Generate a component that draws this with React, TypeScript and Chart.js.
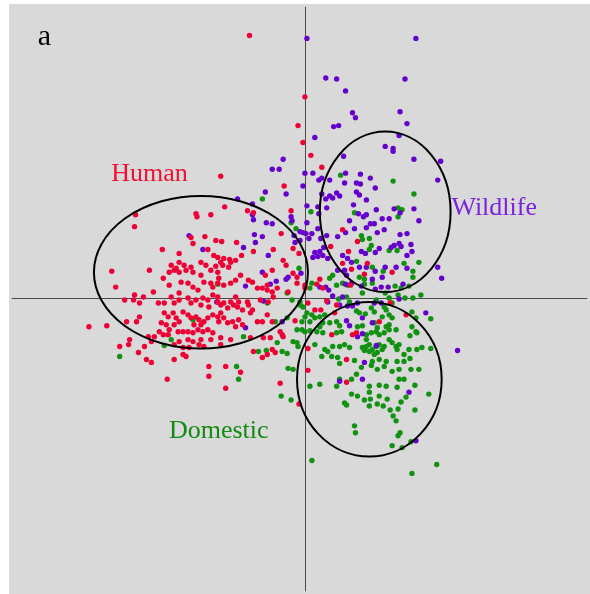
import React, { useEffect, useRef } from "react";
import { Chart, registerables } from "chart.js";

Chart.register(...registerables);

// Ordination scores (PC1, PC2) for each source group
const humanScores: number[][] = [
  [-56, 265], [0, 203], [-7, 174], [-2, 157], [6, 144], [17, 132], [-85, 123],
  [-171, 84], [-172, 72], [-110, 85], [-109, 82], [-95, 84], [-115, 61], [-101, 62], [-113, 55],
  [-90, 58], [-144, 49], [-98, 49], [-127, 45], [-92, 43], [-88, 41], [-195, 27], [-191, 11],
  [-200, -28], [-218, -29], [-187, -49], [-139, -82], [-97, -79],
  [-21, 113], [-81, 92], [-58, 88], [-52, 86], [-14, 88], [-24, 65], [-69, 56], [-84, 57],
  [-52, 47], [-32, 49], [-12, 50], [26, 52], [-6, 45], [-76, 39], [-82, 40], [-64, 43],
  [-19, 33], [-22, 38], [-12, 25], [-8, 21], [15, 19], [-17, 6],
  [38, 69], [53, 57], [44, 47], [38, 35], [63, 35], [88, 26], [47, 29], [60, 24],
  [-23, -37], [-25, -34], [-22, -39], [-65, -75], [-25, -86], [-80, -91], [-6, -107],
  [-8, 15], [0, 13], [0, 10], [12, 14], [18, 10], [46, 13], [32, -7], [22, -3], [86, -5],
  [3, -5], [10, -12], [16, -12], [30, -15], [75, -24], [102, -17], [-10, -23], [27, -37],
  [48, -37], [52, -35], [3, -51], [42, -62], [3, -73], [42, -85],
  [-135, 33], [-130, 30], [-127, 36], [-122, 33], [-115, 31], [-105, 36], [-100, 33], [-90, 32],
  [-83, 33], [-77, 31], [-85, 36], [-75, 36], [-70, 38], [-157, 28], [-137, 26], [-132, 28],
  [-127, 26], [-120, 28], [-113, 26], [-105, 23], [-95, 28], [-88, 26],
  [-143, 20], [-137, 13], [-125, 16], [-118, 15], [-113, 11], [-108, 8], [-102, 16], [-95, 15],
  [-93, 11], [-87, 20], [-88, 15], [-82, 13], [-75, 15], [-70, 18], [-65, 23], [-57, 18],
  [-53, 16], [-48, 10], [-43, 10], [-38, 13], [-33, 28], [-40, 23], [-38, 8], [-28, 10], [-33, 6],
  [-172, 3], [-163, 1], [-153, 6], [-148, -5], [-142, -5], [-135, 1], [-132, -5], [-127, 5],
  [-127, -2], [-118, 0], [-115, -5], [-110, -2], [-103, 0], [-105, -7], [-98, -2], [-97, -9],
  [-93, 3], [-88, 1], [-88, -4], [-85, -7], [-82, -5], [-78, -10], [-75, -4], [-70, 1],
  [-72, -7], [-67, -4], [-68, -9], [-63, -12], [-57, -7], [-53, -12], [-58, -4], [-45, -2],
  [-37, -4], [-32, 1], [-180, -24], [-173, -2], [-167, -5], [-182, -2],
  [-142, -15], [-138, -19], [-133, -15], [-130, -20], [-127, -24], [-132, -27], [-123, -14],
  [-118, -17], [-115, -20], [-110, -19], [-107, -22], [-112, -27], [-105, -27], [-102, -24],
  [-98, -20], [-93, -17], [-88, -19], [-85, -15], [-82, -20], [-87, -24], [-78, -25], [-73, -24],
  [-67, -22], [-70, -29], [-63, -27], [-55, -15], [-48, -24], [-43, -24], [-38, -17], [-33, -24],
  [-140, -27], [-137, -32], [-145, -25], [-167, -19], [-170, -24], [-158, -39], [-152, -39],
  [-147, -34], [-143, -37], [-138, -37],
  [-128, -34], [-123, -34], [-118, -34], [-113, -35], [-108, -32], [-103, -34], [-98, -32],
  [-93, -35], [-85, -40], [-118, -42], [-113, -44], [-105, -42], [-127, -44], [-132, -47],
  [-123, -50], [-117, -50], [-107, -47], [-102, -49], [-95, -42], [-85, -47], [-75, -42],
  [-55, -40], [-42, -40], [-35, -40], [-33, -52], [-52, -54], [-43, -60], [-38, -57], [-30, -55],
  [-168, -55], [-160, -62], [-155, -65], [-132, -62], [-120, -59], [-123, -57], [-97, -69],
  [-80, -69], [-177, -42], [-178, -47], [-155, -44], [-162, -49],
];

const wildlifeScores: number[][] = [
  [2, 262], [21, 222], [32, 221], [29, 173], [34, 174], [10, 162], [-22, 140], [-33, 130],
  [-26, 130], [0, 126], [8, 126], [17, 121], [14, 119], [25, 119],
  [112, 262], [101, 221], [41, 209], [48, 187], [51, 182], [96, 188], [103, 176], [95, 164],
  [81, 153], [89, 151], [89, 148], [110, 140], [137, 138], [39, 143], [41, 126], [56, 125],
  [66, 121], [134, 119],
  [-2, 113], [-40, 107], [-19, 105], [-68, 100], [17, 105], [21, 100], [25, 103], [28, 101],
  [32, 106], [-53, 95], [-53, 84], [-52, 79], [2, 93], [13, 92], [14, 85], [22, 91], [-14, 82],
  [-13, 78], [-39, 76], [-33, 75], [2, 76], [-5, 67], [-2, 66], [1, 65], [-11, 63], [-10, 56],
  [-5, 58], [13, 70], [7, 65], [4, 60], [16, 60], [22, 63], [33, 62], [-43, 62], [-51, 64],
  [-50, 56], [-62, 51], [-37, 43], [10, 46], [15, 47], [19, 51], [8, 41], [13, 42], [18, 43],
  [23, 40], [-4, 25], [33, 28], [-17, 21], [-19, 19], [-23, -24],
  [-43, 26], [-35, 14], [-29, 17], [-42, -3], [-60, 12], [-89, -4], [-60, -30],
  [-117, 63], [-103, 49],
  [40, 116], [52, 116], [56, 115], [71, 111], [35, 103], [52, 107], [55, 104], [62, 99],
  [49, 94], [115, 78], [110, 90], [90, 90], [96, 86], [72, 89], [54, 85], [59, 82], [62, 84],
  [45, 78], [78, 80], [85, 80], [66, 75], [70, 75], [62, 71], [73, 66], [80, 69], [50, 70],
  [41, 66], [96, 64], [103, 65], [90, 53], [95, 55], [97, 52], [107, 54], [108, 47], [87, 51],
  [75, 50], [71, 46], [57, 47], [61, 45], [103, 43], [38, 43], [43, 40], [47, 36], [55, 31],
  [62, 31], [71, 27], [81, 31], [92, 31], [103, 30], [134, 31], [138, 20], [40, 28], [68, 19],
  [78, 21], [42, 23],
  [154, -53], [112, -144],
  [15, 11], [21, 11], [24, 8], [41, 14], [47, 15], [57, 12], [71, 9], [77, 11], [84, 11],
  [99, 14], [95, -1], [38, 1], [35, -7], [43, -8], [48, -8], [28, 2], [23, -4], [53, -5],
  [70, -5], [77, -5], [58, -20], [68, -25], [122, -15], [42, -23], [45, -28], [53, -39],
  [58, -36], [60, -65], [35, -84], [58, -82], [105, -95], [72, -48],
];

const domesticScores: number[][] = [
  [36, 124], [89, 118],
  [-43, 100], [6, 87], [-14, 76], [-9, 70], [-6, 30], [28, 23], [25, 20], [-18, 5], [-18, -20],
  [-30, -24], [-113, -22], [-187, -59],
  [-88, 14], [-38, -5], [-62, -39], [-47, -54], [-39, -53], [-28, -45], [-135, -42], [-142, -48],
  [-69, -69],
  [-23, -54], [-18, -56], [-67, -82], [-17, -71], [-24, -99], [-14, -103], [7, -164],
  [110, 105], [94, 91], [98, 89], [94, 82], [50, 86], [57, 63], [58, 59], [65, 60], [93, 48],
  [85, 48], [67, 53], [65, 49], [52, 37], [68, 31], [79, 27], [100, 35], [115, 36], [109, 27],
  [109, 21], [55, 21], [60, 19],
  [97, -105], [40, -106], [42, -108], [73, -107], [79, -109], [65, -109], [86, -113], [94, -112],
  [111, -113], [89, -119], [92, -124], [50, -129], [51, -136], [96, -136], [94, -139],
  [107, -145], [88, -149], [98, -151], [133, -168], [108, -177], [60, -103], [66, -102],
  [83, -102], [102, -100], [106, -61], [106, -38], [113, -35], [111, -88], [100, -57],
  [7, 15], [5, 10], [32, 13], [38, 15], [43, 13], [60, 14], [68, 15], [91, 12], [97, 10],
  [105, 12], [94, 3], [101, 0], [109, 0], [117, 3], [58, 5], [81, 5], [85, 0], [88, -5],
  [72, -2], [42, 1], [45, -4], [34, -1], [52, -13], [55, -15], [61, -16], [67, -10], [70, -14],
  [80, -9], [82, -12], [78, -19], [85, -17], [88, -20], [108, -14], [112, -20], [127, -21],
  [-13, -2], [-5, -4], [-5, -7], [-2, -9], [2, -15], [0, -19], [7, -17], [10, -20], [15, -19],
  [20, -17], [-3, -24], [5, -24], [15, -29], [18, -25], [25, -25], [32, -24], [35, -28],
  [53, -29], [58, -28], [70, -25], [73, -30], [82, -29], [85, -27], [85, -32], [92, -32],
  [108, -29], [112, -34], [-8, -32], [-3, -32], [0, -34], [5, -33], [12, -34], [18, -35],
  [32, -35], [37, -34], [62, -37], [67, -35], [72, -34], [75, -37], [80, -35],
  [62, -42], [65, -47], [62, -49], [58, -50], [60, -53], [65, -54], [68, -52], [72, -49],
  [75, -47], [80, -49], [78, -52], [73, -55], [70, -57], [85, -42], [88, -45], [92, -49],
  [95, -47], [93, -52], [105, -52], [113, -52], [118, -50], [127, -51], [20, -52], [23, -54],
  [28, -49], [35, -49], [40, -47], [45, -50], [10, -47], [-12, -44], [-8, -45], [-7, -49],
  [17, -59], [27, -59], [33, -60], [50, -63], [68, -64], [75, -62], [82, -64], [93, -64],
  [100, -64], [57, -70], [67, -68], [73, -72], [80, -69], [35, -66], [-12, -72], [88, -74],
  [95, -72], [107, -72], [115, -72], [52, -77], [35, -82], [47, -82], [65, -89], [75, -88],
  [82, -89], [95, -82], [100, -82], [5, -89], [15, -87], [32, -89], [47, -97], [53, -99],
  [65, -95], [75, -99], [93, -90], [125, -97],
];

// Group ellipses: centre (PC1, PC2) and semi-axes along PC1 / PC2
const groupNames = ["Human", "Wildlife", "Domestic"];
const ellipseCentres: number[][] = [[-105, 26], [81, 87], [65, -82]];
const ellipseRadii: number[][] = [[108, 77], [66, 81], [73, 78]];
const labelAnchors: number[][] = [[-157, 125], [191, 91], [-87, -134]];

const RED = "#ee0035";
const PURPLE = "#6600cc";
const GREEN = "#119211";
const groupColours = ["#ee1133", "#7a22dd", "#138a13"];

const SERIF = '"Liberation Serif", "Times New Roman", serif';

const overlay = {
  id: "ordinationOverlay",
  beforeDatasetsDraw(chart: any) {
    const { ctx, chartArea, scales } = chart;
    const x0 = scales.x.getPixelForValue(0);
    const y0 = scales.y.getPixelForValue(0);
    ctx.save();
    ctx.strokeStyle = "#4a4a4a";
    ctx.lineWidth = 1;
    ctx.beginPath();
    ctx.moveTo(Math.round(x0) + 0.5, chartArea.top);
    ctx.lineTo(Math.round(x0) + 0.5, chartArea.bottom);
    ctx.moveTo(chartArea.left, Math.round(y0) + 0.5);
    ctx.lineTo(chartArea.right, Math.round(y0) + 0.5);
    ctx.stroke();
    ctx.restore();
  },
  afterDatasetsDraw(chart: any) {
    const { ctx, scales } = chart;
    const sx = scales.x;
    const sy = scales.y;
    ctx.save();
    ctx.strokeStyle = "#000";
    ctx.lineWidth = 2;
    ellipseCentres.forEach((c, i) => {
      const cx = sx.getPixelForValue(c[0]);
      const cy = sy.getPixelForValue(c[1]);
      const rx = Math.abs(sx.getPixelForValue(c[0] + ellipseRadii[i][0]) - cx);
      const ry = Math.abs(sy.getPixelForValue(c[1] + ellipseRadii[i][1]) - cy);
      ctx.beginPath();
      ctx.ellipse(cx, cy, rx, ry, 0, 0, Math.PI * 2);
      ctx.stroke();
    });
    ctx.textAlign = "center";
    ctx.textBaseline = "middle";
    ctx.font = `26px ${SERIF}`;
    labelAnchors.forEach((p, i) => {
      ctx.fillStyle = groupColours[i];
      ctx.fillText(groupNames[i], sx.getPixelForValue(p[0]), sy.getPixelForValue(p[1]));
    });
    ctx.fillStyle = "#000";
    ctx.font = `30px ${SERIF}`;
    ctx.fillText("a", sx.getPixelForValue(-263), sy.getPixelForValue(263));
    ctx.restore();
  },
};

const toPoints = (rows: number[][]) => rows.map(([x, y]) => ({ x, y }));

export default function App() {
  const canvasRef = useRef<HTMLCanvasElement | null>(null);

  useEffect(() => {
    if (!canvasRef.current) return;
    const pointStyle = { pointRadius: 2.7, pointBorderWidth: 0, pointHoverRadius: 2.7 };
    const chart = new Chart(canvasRef.current, {
      type: "scatter",
      data: {
        datasets: [
          { label: "Domestic", data: toPoints(domesticScores), backgroundColor: GREEN, order: 3, ...pointStyle },
          { label: "Wildlife", data: toPoints(wildlifeScores), backgroundColor: PURPLE, order: 2, ...pointStyle },
          { label: "Human", data: toPoints(humanScores), backgroundColor: RED, order: 1, ...pointStyle },
        ],
      },
      options: {
        responsive: false,
        animation: false,
        layout: { padding: 0 },
        scales: {
          x: { type: "linear", min: -296, max: 285, display: false },
          y: { type: "linear", min: -296, max: 294, display: false },
        },
        plugins: { legend: { display: false }, tooltip: { enabled: false } },
      },
      plugins: [overlay],
    });
    return () => chart.destroy();
  }, []);

  return (
    <div
      style={{
        position: "absolute",
        left: 9,
        top: 4,
        width: 581,
        height: 590,
        background: "#d9d9d9",
      }}
    >
      <canvas ref={canvasRef} width={581} height={590} style={{ display: "block" }} />
    </div>
  );
}
